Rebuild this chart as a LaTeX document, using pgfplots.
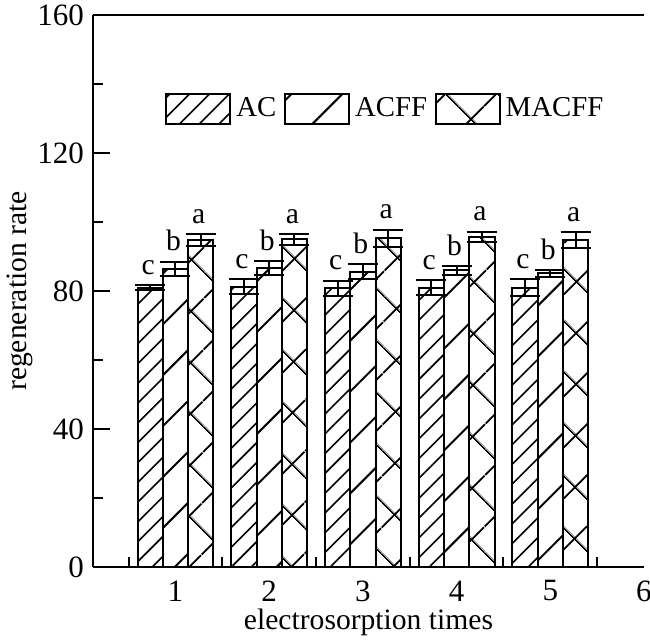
\documentclass[border=0pt]{standalone}
\usepackage{fontspec}
\setmainfont{Liberation Serif}
\usepackage{pgfplots}
\usepackage{pgfplotstable}
\pgfplotsset{compat=1.18}
\usetikzlibrary{patterns.meta}

\pgfplotstableread{
x y err
0.73 81.0 0.7
1.73 81.2 2.2
2.73 80.8 2.2
3.73 81.0 2.2
4.73 81.0 2.4
}\tabAC
\pgfplotstableread{
x y err
1 86.4 2.1
2 86.6 2.0
3 85.6 2.2
4 86.0 1.3
5 85.1 1.0
}\tabACFF
\pgfplotstableread{
x y err
1.27 94.8 1.7
2.27 95.0 1.6
3.27 95.3 2.5
4.27 95.7 1.5
5.27 94.8 2.2
}\tabMACFF
\pgfplotstableread{
x y l
0.73 81.7 c
1.73 83.4 c
2.73 83.0 c
3.73 83.2 c
4.73 83.4 c
1 88.5 b
2 88.6 b
3 87.8 b
4 87.3 b
5 86.1 b
1.27 96.5 a
2.27 96.6 a
3.27 97.8 a
4.27 97.2 a
5.27 97.0 a
}\tabLetters

\newcommand{\fs}{\fontsize{14.8}{17}\selectfont}
\newcommand{\fsl}{\fontsize{14.4}{17}\selectfont}
\newcommand{\fst}{\fontsize{15.5}{18}\selectfont}

\tikzset{
  patAC/.style={pattern={Lines[angle=45, distance=7pt, line width=0.8pt]}},
  patACFF/.style={pattern={Lines[angle=45, distance=18pt, line width=1pt]}},
  patMACFF/.style={pattern={Hatch[angle=45, distance=18.5pt, line width=1pt]}},
}

\begin{document}
\begin{tikzpicture}
\begin{axis}[
  at={(0,0)}, anchor=south west,
  scale only axis, width=275.5pt, height=276pt,
  xmin=0.12, xmax=6, ymin=0, ymax=160,
  axis x line*=bottom, axis y line*=left,
  axis line style={-, line width=1.2pt, black},
  xtick={1,2,3,4,5,6},
  minor xtick={0.5,1.5,2.5,3.5,4.5,5.5},
  ytick={0,40,80,120,160},
  minor ytick={20,60,100,140},
  tick align=inside,
  major tick length=8.5pt, minor tick length=4.8pt,
  tick style={line width=1pt, black},
  major x tick style={draw=none},
  /pgf/number format/assume math mode=true,
  tick label style={font=\fst},
  xticklabel style={yshift=-3.3pt},
  yticklabel style={xshift=-1pt},
  label style={font=\fs},
  xlabel={electrosorption times},
  ylabel={regeneration rate},
  xlabel style={at={(axis description cs:0.5,-0.113)}, anchor=base},
  ylabel style={at={(axis description cs:-0.1325,0.5)}, anchor=center},
  bar width=0.27,
  legend columns=-1,
  legend style={at={(axis description cs:0.1307,0.86)}, anchor=north west,
    draw=none, fill=none, inner sep=0pt, font=\fsl,
    nodes={inner sep=1pt},
    /tikz/every odd column/.append style={column sep=1.5pt},
    /tikz/every even column/.append style={column sep=2.8pt}},
  error bars/error bar style={line width=1pt, black},
  error bars/error mark options={rotate=90, line width=1pt, black, mark size=7.5pt},
]
\addplot[ybar, bar shift=0pt, draw=black, line width=1pt, patAC,
  legend image code/.code={\draw[draw=black, line width=1pt, patAC] (0pt,-7.5pt) rectangle (32pt,7.5pt);},
  error bars/.cd, y dir=both, y explicit]
  table[x=x, y=y, y error=err] {\tabAC};
\addlegendentry{AC}
\addplot[ybar, bar shift=0pt, draw=black, line width=1pt, patACFF,
  legend image code/.code={\draw[draw=black, line width=1pt, patACFF] (0pt,-7.5pt) rectangle (32pt,7.5pt);},
  error bars/.cd, y dir=both, y explicit]
  table[x=x, y=y, y error=err] {\tabACFF};
\addlegendentry{ACFF}
\addplot[ybar, bar shift=0pt, draw=black, line width=1pt, patMACFF,
  legend image code/.code={\draw[draw=black, line width=1pt, patMACFF] (0pt,-7.5pt) rectangle (32pt,7.5pt);},
  error bars/.cd, y dir=both, y explicit]
  table[x=x, y=y, y error=err] {\tabMACFF};
\addlegendentry{MACFF}
\addplot[draw=none, mark=none, forget plot,
  nodes near coords, point meta=explicit symbolic,
  every node near coord/.append style={anchor=south, inner sep=0pt, yshift=5pt, xshift=-1pt, font=\fs}]
  table[x=x, y=y, meta=l] {\tabLetters};
\draw[line width=1.2pt] (rel axis cs:0,1) -- (rel axis cs:1,1);
\end{axis}
\pgfresetboundingbox
\path (-46.5pt,-36.5pt) rectangle (278.5pt,283.5pt);
\end{tikzpicture}
\end{document}
